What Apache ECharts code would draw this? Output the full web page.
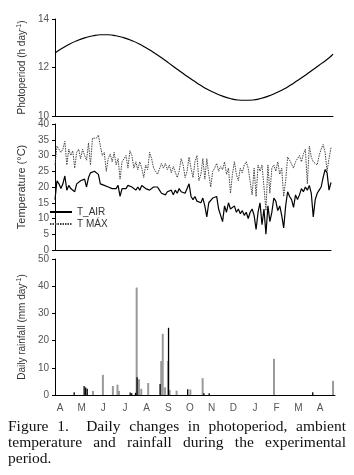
<!DOCTYPE html>
<html>
<head>
<meta charset="utf-8">
<script src="https://cdn.jsdelivr.net/npm/echarts@6/dist/echarts.min.js"></script>
<style>
html,body{margin:0;padding:0;background:#fff;}
#chart{position:absolute;left:0;top:0;width:354px;height:475px;}
#cap{position:absolute;left:8px;top:418px;width:338px;font-family:"Liberation Serif","DejaVu Serif",serif;font-size:15.5px;line-height:16px;color:#111;}
#cap div.j{text-align:justify;text-align-last:justify;}
</style>
</head>
<body>
<div id="chart"></div>
<div id="cap">
<div class="j">Figure 1.&nbsp; Daily changes in photoperiod, ambient</div>
<div class="j">temperature and rainfall during the experimental</div>
<div>period.</div>
</div>
<script>
// ---- data ----
const photoDays = [0,10,20,30,40,50,60,70,80,90,100,110,120,130,140,150,160,170,180,190,200,210,220,230,240,250,260,270,280,290,300,310,320,330,340,350,360,365];
const photoHours = [12.60,12.80,12.98,13.12,13.23,13.31,13.35,13.35,13.31,13.23,13.12,12.98,12.80,12.61,12.40,12.17,11.94,11.71,11.49,11.29,11.10,10.95,10.82,10.72,10.66,10.65,10.66,10.72,10.82,10.95,11.10,11.29,11.49,11.71,11.94,12.17,12.40,12.55];

const tAir = [16,22,21,19.5,21,23.5,19,20.5,19.5,20,18.5,21,21.5,22,21.5,22.5,20,23,24.5,24,25,24.5,24,21,21.5,20.5,21,20,20.5,19.5,20,19.5,20.5,17,19.5,20,19.5,20.5,21,20,19.5,19,20,19,20.5,20,19.5,20,19,18.5,20,19.5,20,19,18,18,17.5,18.5,18,19,17.5,19,18,19.5,18.5,19,18,19.5,21,17,16,17,15.5,16,15,16.5,14,10.5,15,15.5,16.5,16,17,13,11,9,14,12,15,13,12.5,14,12,13,11.5,12.5,11,12,10,12,13,11,6.5,12,15,8,13,5,14,9,12,16.5,15.5,12.5,14,11,7,14,18.5,17,16,13.5,17.5,16,17.5,19.5,18.5,20,19,20.5,18,10.5,16,18,19,20,23,25.5,24.5,19,21.5];
const tMax = [27,33,33.5,31,32,34.5,27,32,30,31.5,26,31,32,29,32,30,28.5,34,27,35.5,35,35.5,36.5,33,30,31,25,29,30.5,28,31,27,29,22.5,28,29,30,26,31.5,30,26,28,25.5,28,26,23,27,25.5,31,29,26,25,24,24,27.5,26,27.5,25.5,27,24.5,26.5,26,23,25,29,27,23,25,29.5,26,23,28,30,22,24,29,22.5,29,24,20,25,26,27.5,25,26.5,25.5,28,24,26,18,24,28,24,22,26,24.5,27,28,26,25.5,17.5,26,17,27,25,27,20,12.5,27,18,26,27,25,28,24,26,17,22,29.5,28.5,29,26,28,29,30,28,30.5,32,21,33,29.5,28,27.5,27,30,32,33.5,31,25,29,32.5];

const rainBlackDays = [25,38,40,42,98,100,105,107,137,148,173,194,201,336];
const rainBlackMm   = [1,3.3,2.8,2.3,0.9,0.6,0.8,6.5,4,24.7,2.1,0.6,0.6,1];
const rainGrayDays  = [49,62,75,81,83,106,109,112,121,138,140,143,147,149,158,176,192,285,362];
const rainGrayMm    = [1.5,7.4,3.3,3.8,1.5,39.5,5.8,2.3,4.4,12.5,22.5,2.8,12.5,1.8,1.6,2,6.2,13.3,5.2];

const monthLabels = ['A','M','J','J','A','S','O','N','D','J','F','M','A'];

// ---- chart ----
const chart = echarts.init(document.getElementById('chart'), null, {renderer:'canvas'});
const FONT = 'Liberation Sans';
const labelStyle = {color:'#555', fontSize:10, fontFamily:FONT};
const axisLine = {show:true, lineStyle:{color:'#000', width:1}};
function nameStyle(fs){
  return {color:'#333', fontSize:fs, fontFamily:FONT,
    rich:{n:{fontSize:fs, color:'#333', fontFamily:FONT}, s:{fontSize:7, color:'#333', fontFamily:FONT, verticalAlign:'top', padding:[0,0,5,0]}}};
}

function yAx(grid, min, max, interval, name, gap, fs){
  return {type:'value', gridIndex:grid, min:min, max:max, interval:interval,
    axisLine:axisLine, axisTick:{show:true, inside:false, length:3, lineStyle:{color:'#000'}},
    splitLine:{show:false}, axisLabel:Object.assign({margin:6}, labelStyle),
    name:name, nameLocation:'middle', nameGap:gap, nameRotate:90, nameTextStyle:nameStyle(fs)};
}

const option = {
  animation:false,
  backgroundColor:'#fff',
  grid:[
    {left:55, right:21, top:19, height:97},
    {left:55, right:23, top:124, height:126},
    {left:55, right:19, top:259, height:136},
    {left:60, right:34, top:395, height:1}
  ],
  xAxis:[
    {type:'value', gridIndex:0, min:0, max:365, axisLine:axisLine, axisTick:{show:false}, axisLabel:{show:false}, splitLine:{show:false}},
    {type:'category', gridIndex:1, boundaryGap:false, data:tAir.map((v,i)=>i), axisLine:axisLine, axisTick:{show:false}, axisLabel:{show:false}},
    {type:'value', gridIndex:2, min:0, max:365, axisLine:axisLine, axisTick:{show:false}, axisLabel:{show:false}, splitLine:{show:false}},
    {type:'value', gridIndex:3, min:0, max:12, interval:1, axisLine:{show:false}, axisTick:{show:false}, splitLine:{show:false},
      axisLabel:Object.assign({margin:7, formatter:(v)=>monthLabels[v]}, labelStyle)}
  ],
  yAxis:[
    yAx(0,10,14,2,'{n|Photoperiod (h day}{s|-1}{n|)}',26,10),
    yAx(1,0,40,5,'Temperature (°C)',26,11),
    yAx(2,0,50,10,'{n|Daily rainfall (mm day}{s|-1}{n|)}',26,10),
    {type:'value', gridIndex:3, show:false}
  ],
  legend:{
    orient:'vertical', left:44, top:202, itemWidth:22, itemHeight:8, itemGap:2,
    itemStyle:{color:'rgba(0,0,0,0)', borderWidth:0, opacity:0},
    textStyle:{color:'#333', fontSize:10, fontFamily:FONT},
    data:['T_AIR','T MÁX']
  },
  series:[
    {type:'line', name:'Photoperiod', xAxisIndex:0, yAxisIndex:0, data:photoDays.map((d,i)=>[d,photoHours[i]]),
      smooth:true, showSymbol:false, symbol:'none', lineStyle:{color:'#000', width:1.2}},
    {type:'line', name:'T MÁX', xAxisIndex:1, yAxisIndex:1, data:tMax, showSymbol:false, symbol:'none',
      itemStyle:{color:'#444'}, lineStyle:{color:'#444', width:1, type:[1.5,1]}},
    {type:'line', name:'T_AIR', xAxisIndex:1, yAxisIndex:1, data:tAir, showSymbol:false, symbol:'none',
      itemStyle:{color:'#000'}, lineStyle:{color:'#000', width:1.2}},
    {type:'bar', name:'rainGray', xAxisIndex:2, yAxisIndex:2, data:rainGrayDays.map((d,i)=>[d,rainGrayMm[i]]),
      barWidth:2, itemStyle:{color:'#9a9a9a'}},
    {type:'bar', name:'rainBlack', xAxisIndex:2, yAxisIndex:2, data:rainBlackDays.map((d,i)=>[d,rainBlackMm[i]]),
      barWidth:1.3, barGap:'-100%', itemStyle:{color:'#000'}}
  ]
};
chart.setOption(option);
</script>
</body>
</html>
